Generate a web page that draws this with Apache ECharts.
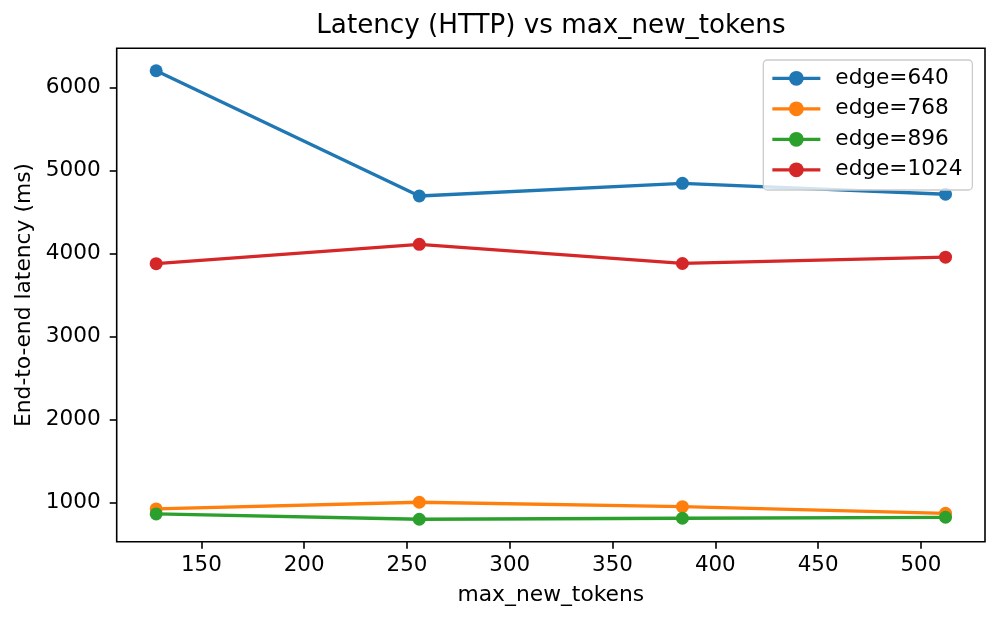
<!DOCTYPE html>
<html>
<head>
<meta charset="utf-8">
<script src="https://cdn.jsdelivr.net/npm/echarts@6/dist/echarts.min.js"></script>
<style>
html,body{margin:0;padding:0;background:#fff;}
#chart{width:1001px;height:623px;}
</style>
</head>
<body>
<div id="chart"></div>
<script>
const maxNewTokens = [128, 256, 384, 512];
const edge640 = [6199, 4691, 4844, 4712];
const edge768 = [924, 1005, 952, 872];
const edge896 = [864, 800, 812, 824];
const edge1024 = [3876, 4109, 3879, 3955];
const seriesNames = ['edge=640', 'edge=768', 'edge=896', 'edge=1024'];
const xTicks = [150, 200, 250, 300, 350, 400, 450, 500];
const yTicks = [1000, 2000, 3000, 4000, 5000, 6000];

const colors = ['#1f77b4', '#ff7f0e', '#2ca02c', '#d62728'];
const allSeries = [edge640, edge768, edge896, edge1024];
const FONT = 'DejaVu Sans';

const chart = echarts.init(document.getElementById('chart'), null, {renderer: 'canvas'});

const series = allSeries.map((vals, i) => ({
  name: seriesNames[i],
  type: 'line',
  data: maxNewTokens.map((x, j) => [x, vals[j]]),
  symbol: 'circle',
  symbolSize: 13,
  showSymbol: true,
  lineStyle: {width: 3.3, color: colors[i]},
  itemStyle: {color: colors[i]},
  emphasis: {disabled: true},
  animation: false
}));

chart.setOption({
  animation: false,
  backgroundColor: '#fff',
  title: {
    text: 'Latency (HTTP) vs max_new_tokens',
    left: 550.9, textAlign: 'center',
    top: 13.5, padding: 0,
    textStyle: {fontFamily: FONT, fontSize: 26.2, fontWeight: 'normal', color: '#000', lineHeight: 26}
  },
  grid: {
    left: 116.7, right: 16, top: 48.3, bottom: 81.3,
    show: true, borderColor: '#000', borderWidth: 1.6, backgroundColor: 'transparent'
  },
  legend: {
    orient: 'vertical',
    left: 763.3, top: 60,
    padding: [7.3, 10, 9.2, 7.4],
    itemWidth: 48, itemHeight: 18.5, itemGap: 8.5,
    backgroundColor: 'rgba(255,255,255,0.8)',
    borderColor: '#cccccc', borderWidth: 1.3, borderRadius: 4,
    lineStyle: {width: 3.3},
    textStyle: {fontFamily: FONT, fontSize: 21.6, color: '#000', lineHeight: 22, padding: [0, 0, 0, 10]},
    data: seriesNames
  },
  xAxis: {
    type: 'value',
    min: 108.8, max: 531.2,
    name: 'max_new_tokens',
    nameLocation: 'middle',
    nameGap: 43,
    nameTextStyle: {fontFamily: FONT, fontSize: 21.8, color: '#000'},
    axisLine: {show: false},
    axisTick: {show: true, length: 7, lineStyle: {color: '#000', width: 1.6}, customValues: xTicks},
    axisLabel: {fontFamily: FONT, fontSize: 21.4, color: '#000', margin: 13.5, customValues: xTicks,
      formatter: v => String(v)},
    splitLine: {show: false}
  },
  yAxis: {
    type: 'value',
    min: 530, max: 6469,
    name: 'End-to-end latency (ms)',
    nameLocation: 'middle',
    nameGap: 74,
    nameTextStyle: {fontFamily: FONT, fontSize: 21.8, color: '#000'},
    axisLine: {show: false},
    axisTick: {show: true, length: 7, lineStyle: {color: '#000', width: 1.6}, customValues: yTicks},
    axisLabel: {fontFamily: FONT, fontSize: 21.6, color: '#000', margin: 16, customValues: yTicks,
      formatter: v => String(v)},
    splitLine: {show: false}
  },
  series: series
});
</script>
</body>
</html>
